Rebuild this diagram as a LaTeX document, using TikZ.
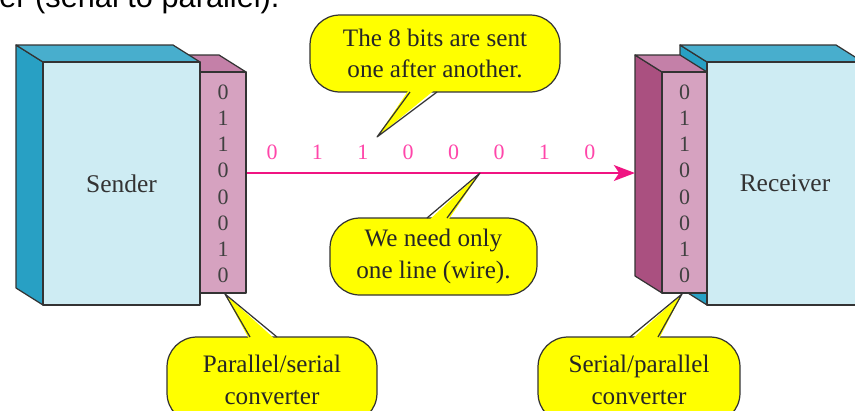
\documentclass[tikz,border=0pt]{standalone}
\usepackage{fontspec}
\setmainfont{Liberation Serif}
\newfontfamily\capfont{Liberation Sans}
\usetikzlibrary{positioning, arrows.meta}

\definecolor{boxfront}{RGB}{206,236,243}
\definecolor{boxdark}{RGB}{40,160,196}
\definecolor{convfront}{RGB}{214,162,192}
\definecolor{convtop}{RGB}{196,128,168}
\definecolor{convside}{RGB}{170,80,128}
\definecolor{wirecol}{RGB}{240,20,130}
\definecolor{bitpink}{RGB}{255,70,170}
\definecolor{bubblecol}{RGB}{255,255,0}

\tikzset{
  edge/.style={draw=black!80, line width=0.7pt, line join=round},
  front/.style={edge, fill=boxfront, inner sep=0pt, text=black!80, font=\fontsize{14.5}{17}\selectfont},
  cfront/.style={edge, fill=convfront, inner sep=0pt},
  callbox/.style={edge, fill=bubblecol, rounded corners=17pt, align=center, inner sep=0pt, text=black!85, font=\fontsize{14.3}{18}\selectfont},
  digit/.style={inner sep=0pt, text=black!75, font=\fontsize{12.5}{14}\selectfont},
  bit/.style={inner sep=0pt, text=bitpink, font=\fontsize{12.5}{14}\selectfont},
}

\begin{document}
\begin{tikzpicture}[x=0.02cm, y=-0.02cm]
\useasboundingbox (0,0) rectangle (855,410);
% caption, cut at the top
\node[anchor=base west, inner sep=0pt, font=\capfont\fontsize{17.5}{20}\selectfont] (cap) at (-1,7) {er (serial to parallel).};
% sender converter
\draw[edge, fill=convtop] (173,55) -- (219,55) -- (246,72) -- (200,72) -- cycle;
\node[cfront, minimum width=0.92cm, minimum height=4.42cm] (sconv) at (223,182.5) {};
% sender
\draw[edge, fill=boxdark] (16,45) -- (43,62) -- (43,305) -- (16,288) -- cycle;
\draw[edge, fill=boxdark!85!white] (16,45) -- (173,45) -- (200,62) -- (43,62) -- cycle;
\node[front, minimum width=3.14cm, minimum height=4.86cm] (sendbox) at (121.5,183.5) {Sender};
% receiver
\draw[edge, fill=boxdark] (680,45) -- (707,62) -- (707,305) -- (680,288) -- cycle;
\draw[edge, fill=boxdark!85!white] (680,45) -- (836,45) -- (863,62) -- (707,62) -- cycle;
\node[front, minimum width=3.12cm, minimum height=4.86cm] (recvbox) at (785,183.5) {Receiver};
% receiver converter
\draw[edge, fill=convside] (635,55) -- (662,72) -- (662,293) -- (635,276) -- cycle;
\draw[edge, fill=convtop] (635,55) -- (680,55) -- (707,72) -- (662,72) -- cycle;
\node[cfront, minimum width=0.9cm, minimum height=4.42cm] (rconv) at (684.5,182.5) {};
% bits
\foreach \b [count=\i from 0] in {0,1,1,0,0,0,1,0} {
  \node[digit] (sb\i) at (223,92+26.2*\i) {\b};
  \node[digit] (rb\i) at (684.5,92+26.2*\i) {\b};
  \node[bit] (wb\i) at (272+45.4*\i,152) {\b};
}
% wire
\coordinate (rin) at (635,173);
\draw[draw=wirecol, line width=1.4pt, -{Stealth[length=12pt,width=9pt,inset=3pt]}] (sconv.east |- rin) -- (rin);
% oben
\node[callbox, minimum width=5cm, minimum height=1.54cm] (bsent) at (435,53.5) {The 8 bits are sent\\one after another.};
\coordinate (tsent) at (377,137);
\fill[bubblecol] (410,88) -- (tsent) -- (437,88) -- cycle;
\draw[edge] (410,92) -- (tsent) -- (437,92);
% mitte
\node[callbox, minimum width=4.14cm, minimum height=1.54cm] (bwire) at (433.5,256.5) {We need only\\one line (wire).};
\coordinate (twire) at (480,173);
\fill[bubblecol] (427,222) -- (twire) -- (447,222) -- cycle;
\draw[edge] (427,218) -- (twire) -- (447,218);
% links
\node[callbox, minimum width=4.2cm, minimum height=1.72cm] (bps) at (272,380) {Parallel/serial\\converter};
\coordinate (tps) at (225,294);
\fill[bubblecol] (250,341) -- (tps) -- (277,341) -- cycle;
\draw[edge] (250,337) -- (tps) -- (277,337);
% rechts
\node[callbox, minimum width=4.04cm, minimum height=1.72cm] (bsp) at (639,380) {Serial/parallel\\converter};
\coordinate (tsp) at (682,294);
\fill[bubblecol] (630,341) -- (tsp) -- (658,341) -- cycle;
\draw[edge] (630,337) -- (tsp) -- (658,337);
\end{tikzpicture}
\end{document}
